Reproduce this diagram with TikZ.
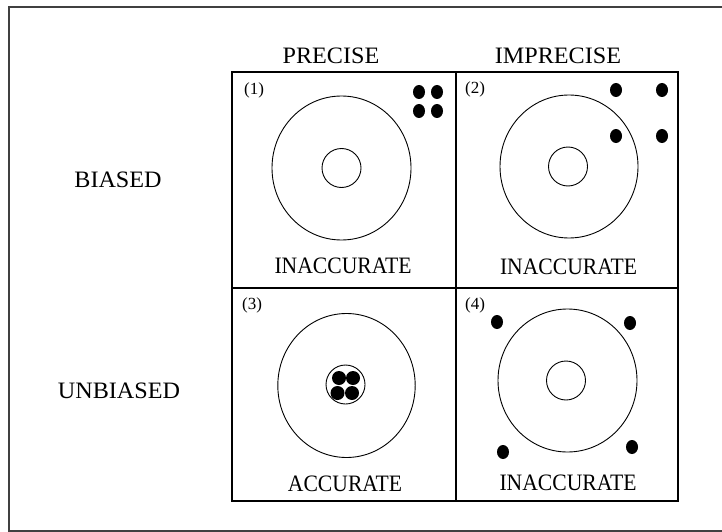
\documentclass[tikz,border=0pt]{standalone}
\usepackage{fontspec}
\setmainfont{Liberation Serif}
\usepackage{graphicx}
\newcommand\stretchlbl[1]{\scalebox{1.03}[1.12]{#1}}
\newcommand\widelbl[1]{\scalebox{1.15}[1.12]{#1}}
\begin{document}
\begin{tikzpicture}[x=1pt,y=-1pt,
  gridline/.style={line width=1.6pt,black},
  ring/.style={line width=0.9pt,black},
  dot/.style={fill=black,draw=none},
  lbl/.style={inner sep=0pt,font=\fontsize{21}{24}\selectfont},
  num/.style={inner sep=0pt,font=\fontsize{17}{19}\selectfont}]
\useasboundingbox (0,0) rectangle (722,532);
\begin{scope}
\clip (0,0) rectangle (722,532);
\draw[line width=2pt,black!75] (9,7) rectangle (740,531);
\end{scope}
% grid
\draw[gridline] (232,72) rectangle (678,501);
\draw[gridline] (456,72) -- (456,501);
\draw[gridline] (232,288) -- (678,288);
% headers
\node[lbl] (hp) at (331,56) {\widelbl{PRECISE}};
\node[lbl] (hi) at (558,56) {\widelbl{IMPRECISE}};
\node[lbl] (rb) at (118,180) {\widelbl{BIASED}};
\node[lbl] (ru) at (119,391) {\widelbl{UNBIASED}};
% cell 1
\draw[ring] (341.5,168) ellipse [x radius=69.5,y radius=72];
\draw[ring] (341.5,168) circle [radius=19.5];
\foreach \x in {419,437} \foreach \y in {92,111}
  \fill[dot] (\x,\y) ellipse [x radius=6,y radius=7];
\node[num] (n1) at (254,90) {(1)};
\node[lbl] (c1) at (343,266) {\stretchlbl{INACCURATE}};
% cell 2
\draw[ring] (569,166.5) ellipse [x radius=69,y radius=71.5];
\draw[ring] (568,166.5) circle [radius=19.5];
\foreach \x in {616,662} \foreach \y in {90,136}
  \fill[dot] (\x,\y) ellipse [x radius=6,y radius=7];
\node[num] (n2) at (475,89) {(2)};
\node[lbl] (c2) at (568.5,267) {\stretchlbl{INACCURATE}};
% cell 3
\draw[ring] (346.5,385.5) ellipse [x radius=68.7,y radius=72];
\draw[ring] (345.5,384.5) circle [radius=19.5];
\fill[dot] (339,378) circle [radius=7];
\fill[dot] (353,378) circle [radius=7];
\fill[dot] (337.5,393) circle [radius=7];
\fill[dot] (352,393) circle [radius=7];
\node[num] (n3) at (252,305) {(3)};
\node[lbl] (c3) at (345,484) {\stretchlbl{ACCURATE}};
% cell 4
\draw[ring] (567.5,380.5) ellipse [x radius=69.5,y radius=71.5];
\draw[ring] (566,380.5) circle [radius=19.5];
\fill[dot] (497,322) ellipse [x radius=6,y radius=7];
\fill[dot] (630,323) ellipse [x radius=6,y radius=7];
\fill[dot] (503,452) ellipse [x radius=6,y radius=7];
\fill[dot] (632,447) ellipse [x radius=6,y radius=7];
\node[num] (n4) at (475,305) {(4)};
\node[lbl] (c4) at (568,483) {\stretchlbl{INACCURATE}};
\end{tikzpicture}
\end{document}
